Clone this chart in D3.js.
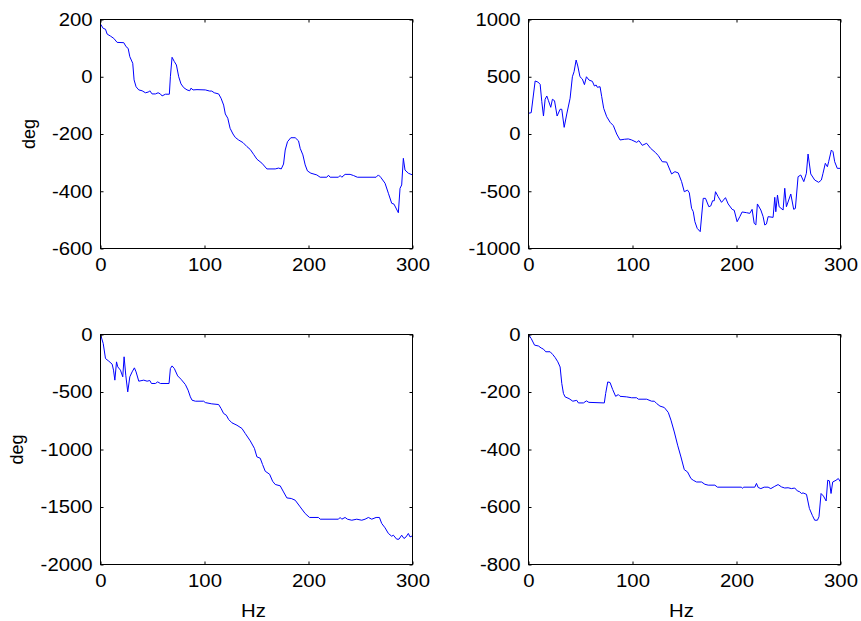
<!DOCTYPE html>
<html>
<head>
<meta charset="utf-8">
<script src="https://cdn.jsdelivr.net/npm/d3@7"></script>
<style>
  html, body { margin: 0; padding: 0; background: #fff; }
  svg { display: block; }
  text { font-family: "Liberation Sans", Arial, sans-serif; fill: #000; }
</style>
</head>
<body>
<svg id="fig" width="861" height="621"></svg>
<script>
// Frequency ticks shared by all panels (Hz)
const freqTicks = [0, 100, 200, 300];

// Phase tick values for each panel (deg)
const yTicksTL = [-600, -400, -200, 0, 200];
const yTicksTR = [-1000, -500, 0, 500, 1000];
const yTicksBL = [-2000, -1500, -1000, -500, 0];
const yTicksBR = [-800, -600, -400, -200, 0];

// Phase responses: [frequency Hz, phase deg]
const phaseTL = [[0,184],[2.6,169],[4.8,166],[6.4,149],[9.6,142],[12.8,134],[16,120],[22.4,119],[24.6,105],[26.6,99],[28.2,70],[31,47],[32.3,-11],[34.2,-35],[36.8,-46],[40,-49],[43.2,-56],[46.4,-53],[47.4,-49],[49.6,-60],[52.8,-60],[55.4,-56],[57.6,-60],[59.2,-67],[62.4,-61],[66.2,-61],[67.2,0],[68.8,68],[71,53],[73,41],[75.2,0],[77.4,-25],[80,-38],[83.2,-46],[85.8,-49],[87,-40],[89,-46],[92.8,-45],[100.8,-46],[105,-50],[107,-50],[109.4,-56],[113.6,-60],[115.9,-75],[118.4,-99],[120,-130],[122.4,-145],[124.6,-180],[127.4,-200],[129.6,-212],[132.8,-221],[137,-230],[140.8,-244],[144,-254],[147.2,-271],[150.4,-288],[155.2,-302],[160,-322],[168,-322],[171.2,-319],[173.8,-322],[176,-305],[177.6,-256],[179.8,-227],[183,-213],[187.2,-213],[190.4,-224],[192,-250],[194.6,-273],[196.8,-308],[199,-329],[202.3,-337],[208,-343],[211.2,-351],[217.6,-351],[219.2,-344],[220.8,-351],[228.8,-351],[230.4,-345],[232,-351],[235.2,-341],[240,-341],[243.2,-345],[247,-351],[265,-351],[267.2,-343],[269.4,-351],[273.6,-372],[276.8,-407],[280,-442],[282.2,-445],[286.4,-475],[288,-390],[289.6,-378],[291.2,-285],[292.8,-326],[296,-337],[300,-343]];

const phaseTR = [[0,181],[2.6,186],[6.4,463],[9,454],[11.2,434],[12.8,282],[14.4,157],[16,303],[17.6,332],[19.2,291],[21.4,233],[23,303],[25,291],[27.5,157],[30.4,216],[32,216],[34.3,58],[36.8,175],[40,312],[42.2,500],[43.8,544],[45.8,646],[47.4,594],[49.5,500],[51.8,480],[53.8,431],[55.7,500],[58.2,471],[61.4,460],[63.4,419],[65,428],[66.2,408],[68.8,413],[70.4,326],[72.3,224],[75.2,151],[78.5,102],[81.6,73],[84.8,0],[88,-52],[92.2,-46],[96,-43],[99.2,-52],[104,-73],[106.2,-58],[109.4,-99],[113.6,-81],[117.4,-125],[122.2,-163],[124.8,-189],[128.6,-242],[132.8,-245],[137.6,-349],[140.8,-329],[144,-340],[147.2,-416],[149.8,-504],[152.9,-490],[154.6,-513],[156.8,-649],[158.4,-678],[160,-766],[162.2,-824],[165.1,-853],[168,-562],[170.2,-562],[173.4,-635],[175.3,-628],[177,-583],[178.6,-583],[179.8,-504],[182.4,-548],[185.6,-597],[189.4,-556],[192,-611],[195.8,-658],[197.8,-666],[200.6,-766],[203.2,-722],[205.4,-681],[209.6,-687],[212.8,-693],[215,-658],[217,-780],[218.6,-794],[220.1,-611],[223.4,-664],[225.6,-722],[227.2,-795],[228.8,-786],[230.4,-722],[235.2,-728],[236.8,-553],[237.8,-679],[239.4,-533],[241,-635],[244.8,-664],[246.4,-474],[248,-635],[252.2,-524],[255,-658],[256.6,-650],[259.2,-373],[261.8,-358],[264.7,-416],[267.2,-343],[268.8,-175],[271.4,-349],[275.2,-402],[279,-422],[281.6,-402],[283.2,-343],[285.4,-256],[287.4,-286],[288.6,-242],[291.2,-140],[292.8,-155],[294.4,-242],[296.9,-300],[300,-300]];

const phaseBL = [[0,0],[2.6,-78],[4.8,-209],[8,-232],[11.2,-258],[12.5,-310],[13.8,-397],[15.4,-238],[16.6,-281],[19.2,-310],[21.4,-368],[22.7,-194],[24.3,-354],[26.2,-499],[28.2,-368],[30.4,-325],[32.6,-290],[34.2,-325],[36.8,-406],[41.6,-397],[44.8,-406],[47.4,-400],[49,-426],[52.8,-426],[55,-412],[57.6,-426],[65.9,-426],[67.2,-296],[68.8,-273],[71,-296],[74.2,-360],[77.4,-389],[81.6,-435],[84.2,-484],[86.4,-542],[88,-571],[91.2,-580],[99.2,-580],[100.8,-592],[107,-603],[113.6,-609],[115.9,-643],[118.4,-687],[121,-702],[123.2,-739],[126.4,-768],[131.2,-789],[136,-817],[139.2,-861],[144,-925],[148,-990],[150.4,-1064],[153.6,-1076],[155.8,-1130],[158.4,-1189],[162.6,-1215],[165.5,-1276],[168,-1304],[172.8,-1316],[176,-1369],[179.2,-1421],[183.4,-1426],[187.2,-1441],[192,-1499],[196.8,-1557],[201,-1591],[209.6,-1591],[211.2,-1606],[228.8,-1606],[230.4,-1591],[232,-1606],[235.2,-1591],[237.4,-1606],[241.6,-1615],[246.4,-1606],[251.2,-1615],[254.4,-1606],[257.6,-1591],[260.8,-1606],[265,-1591],[268.2,-1591],[270.4,-1643],[273.6,-1681],[276.8,-1730],[280,-1754],[281.6,-1745],[284.8,-1780],[287,-1780],[289.6,-1745],[291.8,-1774],[293.8,-1760],[296,-1730],[297.6,-1760],[300,-1751]];

const phaseBR = [[0,0],[2.6,-14],[5.8,-37],[9.6,-40],[12.2,-47],[14.4,-51],[16.6,-60],[20.8,-60],[23.4,-70],[25.6,-80],[28.2,-95],[30.4,-113],[32,-170],[33.6,-205],[35.2,-217],[39,-223],[42.6,-232],[46.4,-229],[48,-238],[52.8,-238],[55.7,-231],[58,-236],[72.9,-238],[74.2,-205],[76.2,-165],[78.4,-167],[80.9,-191],[83.8,-215],[86.4,-209],[88,-215],[94.4,-217],[99.2,-220],[104,-220],[105.6,-225],[113.6,-225],[118.4,-232],[121,-232],[123.2,-240],[126.4,-249],[130.6,-254],[134.4,-271],[137,-298],[140.2,-339],[143.4,-385],[146.6,-426],[149.8,-470],[152.9,-478],[156.2,-501],[158.4,-507],[161.6,-513],[166.4,-513],[169.6,-521],[172.8,-524],[179.2,-524],[181.7,-531],[204.8,-531],[205.7,-535],[207,-531],[217.6,-531],[219.2,-518],[220.8,-532],[223.4,-536],[226.6,-531],[230.4,-531],[233,-536],[236.8,-528],[240,-522],[243.2,-530],[246.4,-534],[249.6,-533],[252.8,-536],[256,-534],[258.5,-544],[260.8,-547],[262.4,-553],[264,-551],[267.3,-556],[270.1,-605],[272.9,-629],[275.2,-646],[277.8,-646],[279.3,-634],[281.3,-553],[283.6,-562],[286.2,-579],[287.7,-507],[289.3,-509],[290.9,-553],[292.5,-513],[295.7,-507],[297.9,-501],[300,-513]];

const xLabel = "Hz";
const yLabel = "deg";

// Panel layout (2 x 2 grid)
const colX = [[100.5, 412.5], [528.5, 840.5]];
const rowY = [[19.5, 248.5], [334.5, 564.5]];

const panels = [
  { data: phaseTL, ticks: yTicksTL, col: 0, row: 0, ylab: true,  xlab: false, ylabX: 35 },
  { data: phaseTR, ticks: yTicksTR, col: 1, row: 0, ylab: false, xlab: false },
  { data: phaseBL, ticks: yTicksBL, col: 0, row: 1, ylab: true,  xlab: true, ylabX: 23 },
  { data: phaseBR, ticks: yTicksBR, col: 1, row: 1, ylab: false, xlab: true }
];

const svg = d3.select("#fig");
svg.append("rect").attr("width", 861).attr("height", 621).attr("fill", "#fff");

const FS = 18;        // label font size
const STRETCH = 1.13; // horizontal glyph width of tick labels
const TICK = 3;       // inward tick length
const plain = d => String(d); // plain integers with ASCII hyphen-minus

panels.forEach(p => {
  const [x0, x1] = colX[p.col];
  const [y0, y1] = rowY[p.row];
  const x = d3.scaleLinear().domain([0, 300]).range([x0, x1]);
  const y = d3.scaleLinear().domain(d3.extent(p.ticks)).range([y1, y0]);

  const g = svg.append("g");

  // data trace
  g.append("path")
    .datum(p.data)
    .attr("fill", "none")
    .attr("stroke", "#0000ff")
    .attr("stroke-width", 1)
    .attr("stroke-linejoin", "round")
    .attr("d", d3.line().x(d => x(d[0])).y(d => y(d[1])));

  // box
  g.append("rect")
    .attr("x", x0).attr("y", y0)
    .attr("width", x1 - x0).attr("height", y1 - y0)
    .attr("fill", "none").attr("stroke", "#000").attr("stroke-width", 1);

  const styleAxis = sel => {
    sel.select(".domain").remove();
    sel.selectAll("line").attr("stroke", "#000");
    sel.selectAll("text")
      .attr("font-size", FS)
      .attr("font-family", "'Liberation Sans', Arial, sans-serif")
      .attr("transform", `scale(${STRETCH},1)`);
  };

  g.append("g").attr("transform", `translate(0,${y1})`)
    .call(d3.axisBottom(x).tickValues(freqTicks).tickFormat(plain).tickSizeInner(-TICK).tickSizeOuter(0).tickPadding(10))
    .call(styleAxis);
  g.append("g").attr("transform", `translate(0,${y0})`)
    .call(d3.axisTop(x).tickValues(freqTicks).tickSizeInner(-TICK).tickSizeOuter(0).tickFormat(""))
    .call(styleAxis);
  g.append("g").attr("transform", `translate(${x0},0)`)
    .call(d3.axisLeft(y).tickValues(p.ticks).tickFormat(plain).tickSizeInner(-TICK).tickSizeOuter(0).tickPadding(7))
    .call(styleAxis);
  g.append("g").attr("transform", `translate(${x1},0)`)
    .call(d3.axisRight(y).tickValues(p.ticks).tickSizeInner(-TICK).tickSizeOuter(0).tickFormat(""))
    .call(styleAxis);

  if (p.xlab) {
    g.append("text")
      .attr("transform", `translate(${(x0 + x1) / 2 - 3},617) scale(${STRETCH},1)`)
      .attr("text-anchor", "middle")
      .attr("font-size", FS)
      .text(xLabel);
  }
  if (p.ylab) {
    g.append("text")
      .attr("transform", `translate(${p.ylabX},${(y0 + y1) / 2}) rotate(-90)`)
      .attr("text-anchor", "middle")
      .attr("font-size", FS)
      .text(yLabel);
  }
});
</script>
</body>
</html>
